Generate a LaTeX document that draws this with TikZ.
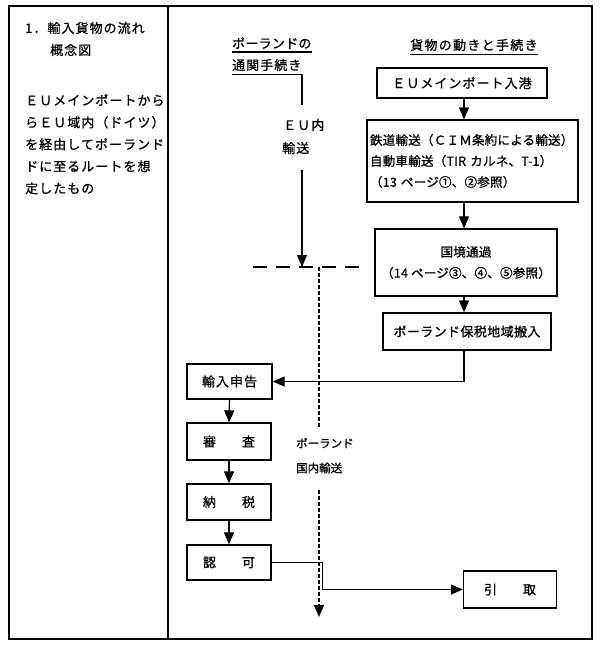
\documentclass[tikz,border=0pt]{standalone}
\usepackage{fontspec}
\setmainfont{Noto Sans CJK JP}[FakeBold=0.9]
\usetikzlibrary{arrows.meta,calc}
\tikzset{
  frame/.style={line width=1.6pt},
  box/.style={draw, line width=1.3pt, inner sep=0pt, align=center},
  lab/.style={inner sep=0pt, anchor=west},
  fa/.style={font=\fontsize{13}{21}\selectfont\addfontfeature{LetterSpace=8}},
  fb/.style={font=\fontsize{12.5}{21}\selectfont\addfontfeature{LetterSpace=2}},
  fc/.style={font=\fontsize{11.5}{21}\selectfont},
  arr/.style={line width=1.2pt, -{Triangle[length=12pt,width=10pt]}},
  ln/.style={line width=1.2pt},
  bord/.style={line width=2pt, dash pattern=on 14pt off 9pt},
  vd/.style={line width=1.4pt, dash pattern=on 4pt off 2pt},
}
\begin{document}
\begin{tikzpicture}[x=1pt,y=-1pt]
\useasboundingbox (0,0) rectangle (600,645);
% table frame
\draw[frame] (9,6) rectangle (592,639);
\draw[frame] (168,6) -- (168,639);
% left column
\node[lab, fa] (t1) at (25,28) {1．輸入貨物の流れ};
\node[lab, fa] (t2) at (50,50) {概念図};
\node[lab, align=left, anchor=north west, font=\fontsize{13}{22}\selectfont\addfontfeature{LetterSpace=8}] (body) at (25,94)
  {ＥＵメインポートから\\らＥＵ域内（ドイツ）\\を経由してポーランド\\ドに至るルートを想\\定したもの};
% headings
\node[lab, font=\fontsize{13}{14}\selectfont\addfontfeature{LetterSpace=2}] (h1) at (232,43) {ポーランドの};
\node[lab, fa] (h2) at (232,65) {通関手続き};
\node[lab, font=\fontsize{13}{14}\selectfont\addfontfeature{LetterSpace=10}] (h3) at (410,45) {貨物の動きと手続き};
\draw[ln] ([yshift=-3pt]h1.south west) -- ([yshift=-3pt]h1.south east);
\draw[ln] ([yshift=-3pt]h3.south west) -- ([yshift=-3pt]h3.south east);
\coordinate (brk) at (302,105);
\draw[ln] ([yshift=-3pt]h2.south west) -| (brk);
% EU internal transport
\node[lab, fa] (eu) at (283,125) {ＥＵ内};
\node[lab, fa] (eu2) at (282,148) {輸送};
\coordinate (eutop) at (302,170);
\coordinate (euend) at (302,267);
\draw[arr] (eutop) -- (euend);
% border line
\coordinate (bl) at (253,267);
\coordinate (br) at (362,267);
\draw[bord] (bl) -- (br);
% Poland domestic transport
\coordinate (v0) at (319,267);
\coordinate (v1) at (319,427);
\coordinate (v2) at (319,490);
\coordinate (v3) at (319,617);
\draw[vd] (v0) -- (v1);
\draw[vd, -{Triangle[length=12pt,width=10pt]}] (v2) -- (v3);
\node[lab, fc] (pl1) at (296,443) {ポーランド};
\node[lab, fc] (pl2) at (296,468) {国内輸送};
% right flow
\coordinate (sp) at (464,0);
\node[box, fa, minimum width=170pt, minimum height=30pt] (b1) at (462,83) {ＥＵメインポート入港};
\node[box, fb, align=left, text width=205pt, inner xsep=3pt, minimum height=82pt] (b2) at (472.5,161)
  {鉄道輸送（ＣＩＭ条約による輸送）\\自動車輸送（TIR カルネ、T-1）\\（13 ページ①、②参照）};
\node[box, fb, minimum width=182pt, minimum height=67pt] (b3) at (466,262.5)
  {国境通過\\（14 ページ③、④、⑤参照）};
\node[box, font=\fontsize{13}{14}\selectfont\addfontfeature{LetterSpace=3}, minimum width=168pt, minimum height=37pt] (b4) at (467,331.5) {ポーランド保税地域搬入};
\draw[arr] (sp |- b1.south) -- (sp |- b2.north);
\draw[arr] (sp |- b2.south) -- (sp |- b3.north);
\draw[arr] (sp |- b3.south) -- (sp |- b4.north);
% left flow
\node[box, fa, minimum width=85pt, minimum height=35pt] (imp) at (229.5,381.5) {輸入申告};
\node[box, fa, minimum width=84pt, minimum height=37pt] (shin) at (229,441.5) {審\hspace{26pt}査};
\node[box, fa, minimum width=84pt, minimum height=36pt] (nou) at (229,502) {納\hspace{26pt}税};
\node[box, fa, minimum width=84pt, minimum height=35pt] (nin) at (229,562.5) {認\hspace{26pt}可};
\node[box, fa, minimum width=93pt, minimum height=37pt] (hiki) at (510,589.5) {引\hspace{26pt}取};
\draw[arr] (sp |- b4.south) |- (imp.east);
\draw[arr] (imp.south) -- (shin.north);
\draw[arr] (shin.south) -- (nou.north);
\draw[arr] (nou.south) -- (nin.north);
\draw[arr] (nin.east) -- ++(51,0) |- (hiki.west);
\end{tikzpicture}
\end{document}
